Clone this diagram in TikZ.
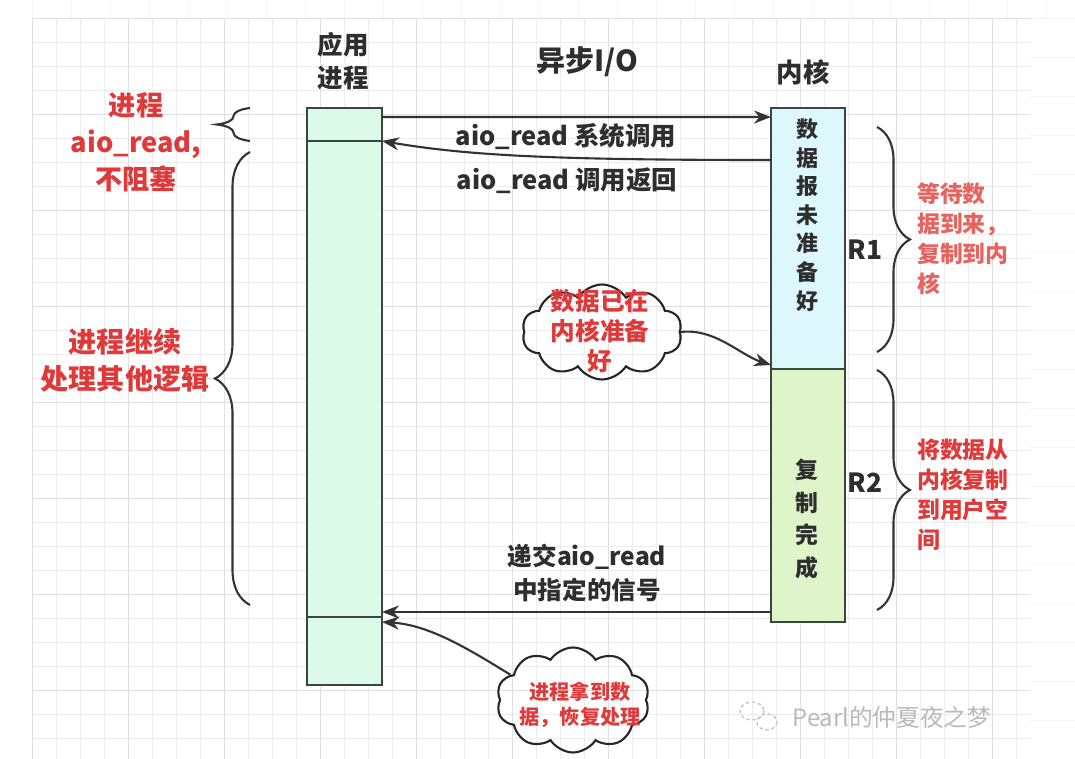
\documentclass[tikz,border=0pt]{standalone}
\usepackage{fontspec}
\setmainfont{Noto Sans CJK SC}
\usetikzlibrary{arrows.meta,shapes.symbols,decorations.pathreplacing,positioning}

\definecolor{appfill}{HTML}{DCFAE8}
\definecolor{kupfill}{HTML}{DDF8FC}
\definecolor{klowfill}{HTML}{DEF5C9}
\definecolor{boxline}{HTML}{3A4640}
\definecolor{linedark}{HTML}{333333}
\definecolor{textdark}{HTML}{2E2E2E}
\definecolor{redtext}{HTML}{E0393A}
\definecolor{redsoft}{HTML}{E8625E}
\definecolor{gridminor}{HTML}{EDEDED}
\definecolor{gridmajor}{HTML}{E0E0E0}

\newcommand{\fsz}[2]{\fontsize{#1}{#2}\selectfont}

\begin{document}
\begin{tikzpicture}[
        x=0.02cm, y=-0.02cm,
        procbox/.style={rectangle, draw=boxline, line width=1.2pt, fill=appfill, minimum width=1.5cm, inner sep=0pt, outer sep=0pt},
        kernbox/.style={rectangle, draw=boxline, line width=1.2pt, minimum width=1.48cm, inner sep=0pt, outer sep=0pt},
        head/.style={font=\fsz{14.5}{19}\bfseries, text=textdark, align=center},
        msg/.style={font=\fsz{14.5}{19}\bfseries, text=textdark, align=center},
        redlabel/.style={font=\fsz{15.5}{21}\bfseries, text=redtext, align=center},
        sidelabel/.style={font=\fsz{13}{17}\bfseries, align=left, anchor=west},
        vtext/.style={font=\fsz{12.5}{16.3}\bfseries, text=textdark, align=center},
        cloudnode/.style={cloud, cloud puffs=10, cloud puff arc=115, cloud ignores aspect, draw=black!85, line width=1.2pt},
        arrow/.style={-{Stealth[length=0.34cm,width=0.26cm]}, line width=1.2pt, draw=linedark},
        bracepath/.style={decorate, line width=1.2pt, draw=linedark}
    ]
        \useasboundingbox (0,0) rectangle (1075,759);

        % background grid
        \foreach \gx in {32,71,...,1075} \draw[gray!8] (\gx,0) -- (\gx,18);
        \foreach \gy in {18,57,...,759} \draw[gray!8] (1030,\gy) -- (1075,\gy);
        \foreach \gx in {32,56,...,1030} \draw[gridminor] (\gx,18) -- (\gx,759);
        \foreach \gy in {18,42,...,759} \draw[gridminor] (32,\gy) -- (1030,\gy);
        \foreach \gx in {32,128,...,1030} \draw[gridmajor] (\gx,18) -- (\gx,759);
        \foreach \gy in {18,114,...,759} \draw[gridmajor] (32,\gy) -- (1030,\gy);

        % Headings
        \node[head] (apphead) at (343,61) {应用\\进程};
        \node[head, font=\fsz{16.5}{19}\bfseries] (title) at (587,62) {异步I/O};
        \node[head, font=\fsz{15}{19}\bfseries] (kernhead) at (803,72) {内核};

        % Application process
        \node[procbox, minimum height=0.66cm] (appcall) at (344.5,124.5) {};
        \node[procbox, minimum height=9.52cm] (apprun) at (344.5,379) {};
        \node[procbox, minimum height=1.36cm] (appdone) at (344.5,651) {};

        % Kernel
        \node[kernbox, fill=kupfill, minimum height=5.22cm] (kup) at (808,238.5) {};
        \node[kernbox, fill=klowfill, minimum height=5.06cm] (klow) at (808,495.5) {};
        \node[vtext] (kuptext) at (807,215) {数\\据\\报\\未\\准\\备\\好};
        \node[vtext, font=\fsz{13}{18.7}\bfseries] (klowtext) at (807,519) {复\\制\\完\\成};

        % Calls and signal
        \draw[arrow] ([yshift=-0.18cm]appcall.north east) -- ([yshift=-0.18cm]kup.north west);
        \node[msg] (calllbl) at (566,137) {aio\_read 系统调用};
        \draw[arrow] ([yshift=-1.04cm]kup.north west) .. controls (560,160) and (470,156) .. (appcall.south east);
        \node[msg] (retlbl) at (567,181) {aio\_read 调用返回};
        \draw[arrow] ([yshift=0.2cm]klow.south west) -- ([yshift=0.2cm]klow.south west -| apprun.east);
        \node[msg, font=\fsz{14}{19}\bfseries] (siglbl) at (587,573) {递交aio\_read\\中指定的信号};

        % Clouds
        \node[cloudnode, minimum width=3.2cm, minimum height=1.9cm] (readycloud) at (602,332) {};
        \node[redlabel, font=\fsz{14}{17}\bfseries] (readytext) at (600,331) {数据已在\\内核准备\\好};
        \draw[arrow] (readycloud.east) .. controls (715,328) and (740,355) .. ([yshift=0.08cm]kup.south west);

        \node[cloudnode, minimum width=3.06cm, minimum height=2.1cm] (gotcloud) at (573,700) {};
        \node[redlabel, font=\fsz{11.5}{14.5}\bfseries] (gottext) at (580,705) {进程拿到数\\据，恢复处理};
        \draw[arrow] (gotcloud.158) .. controls (470,650) and (430,625) .. ([yshift=-0.1cm]appdone.north east);

        % Braces
        \draw[bracepath, decoration={brace, amplitude=0.66cm}] (250,141) -- (250,108);
        \draw[bracepath, decoration={brace, amplitude=0.7cm}] (250,605) -- (250,152);
        \draw[bracepath, decoration={brace, amplitude=0.66cm}] (877,127) -- (877,352);
        \draw[bracepath, decoration={brace, amplitude=0.66cm}] (877,370) -- (877,610);

        % Side labels
        \node[redlabel] (nbtext) at (136,142) {进程\\aio\_read,\\不阻塞};
        \node[redlabel, font=\fsz{16}{21}\bfseries] (runtext) at (125,360) {进程继续\\处理其他逻辑};
        \node[head, font=\fsz{15}{18}\bfseries] (rone) at (865,250) {R1};
        \node[head, font=\fsz{15}{18}\bfseries] (rtwo) at (865,483) {R2};
        \node[sidelabel, text=redsoft] (waittext) at (911,239) {等待数\\据到来，\\复制到内\\核};
        \node[sidelabel, text=redtext] (copytext) at (911,495) {将数据从\\内核复制\\到用户空\\间};

        % Watermark
        \draw[gray!45, line width=0.8pt, dash pattern=on 2pt off 1.5pt] (752,711) circle[x radius=12, y radius=9];
        \draw[gray!45, line width=0.8pt, dash pattern=on 2pt off 1.5pt] (767,722) circle[x radius=10, y radius=8];
        \node[font=\fsz{13.5}{15}, text=gray!55] (mark) at (892,717) {Pearl的仲夏夜之梦};
    \end{tikzpicture}
\end{document}
